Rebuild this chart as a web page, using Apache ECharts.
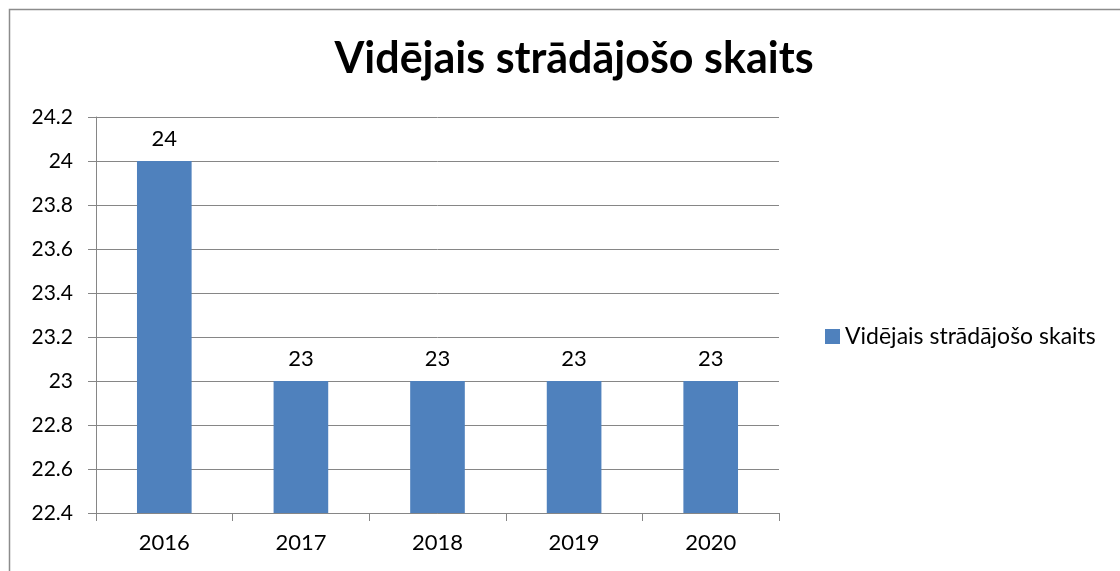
<!DOCTYPE html>
<html>
<head>
<meta charset="utf-8">
<script src="https://cdn.jsdelivr.net/npm/echarts@6/dist/echarts.min.js"></script>
<style>
  html, body { margin: 0; padding: 0; background: #fff; }
  #main { width: 1120px; height: 571px; }
</style>
</head>
<body>
<div id="main"></div>
<script>
var years = ['2016', '2017', '2018', '2019', '2020'];
var workers = [24, 23, 23, 23, 23];
var seriesName = 'Vidējais strādājošo skaits';

var myChart = echarts.init(document.getElementById('main'));
var axisColor = '#868686';
var font = 'Lato, "Open Sans", sans-serif';

var option = {
    animation: false,
    textStyle: { fontFamily: font },
    graphic: [{
        type: 'rect',
        shape: { x: 9.5, y: 9.5, width: 1200, height: 700 },
        style: { fill: 'none', stroke: '#8c8c8c', lineWidth: 1.5 },
        silent: true
    }],
    title: {
        text: seriesName,
        left: 569,
        top: 33,
        textAlign: 'center',
        textStyle: { fontSize: 43, fontWeight: 'bold', color: '#000', fontFamily: font }
    },
    legend: {
        orient: 'vertical',
        left: 820,
        top: 320,
        itemWidth: 15,
        itemHeight: 15,
        itemGap: 8,
        textStyle: { fontSize: 23, color: '#000', fontFamily: font },
        data: [{ name: seriesName, icon: 'rect' }]
    },
    grid: {
        left: 96,
        right: 341,
        top: 117,
        bottom: 58
    },
    xAxis: {
        type: 'category',
        data: years,
        axisLine: { lineStyle: { color: axisColor } },
        axisTick: { show: true, length: 8, lineStyle: { color: axisColor } },
        axisLabel: { fontSize: 22, color: '#000', margin: 19, fontFamily: font }
    },
    yAxis: {
        type: 'value',
        min: 22.4,
        max: 24.2,
        interval: 0.2,
        axisLine: { show: true, lineStyle: { color: axisColor } },
        axisTick: { show: true, length: 8, lineStyle: { color: axisColor } },
        splitLine: { lineStyle: { color: axisColor } },
        axisLabel: { fontSize: 21, color: '#000', margin: 23, fontFamily: font }
    },
    series: [{
        name: seriesName,
        type: 'bar',
        data: workers,
        barWidth: '40%',
        itemStyle: { color: '#4F81BD' },
        label: {
            show: true,
            position: 'top',
            distance: 11,
            fontSize: 22,
            color: '#000',
            fontFamily: font
        }
    }]
};

myChart.setOption(option);
</script>
</body>
</html>
